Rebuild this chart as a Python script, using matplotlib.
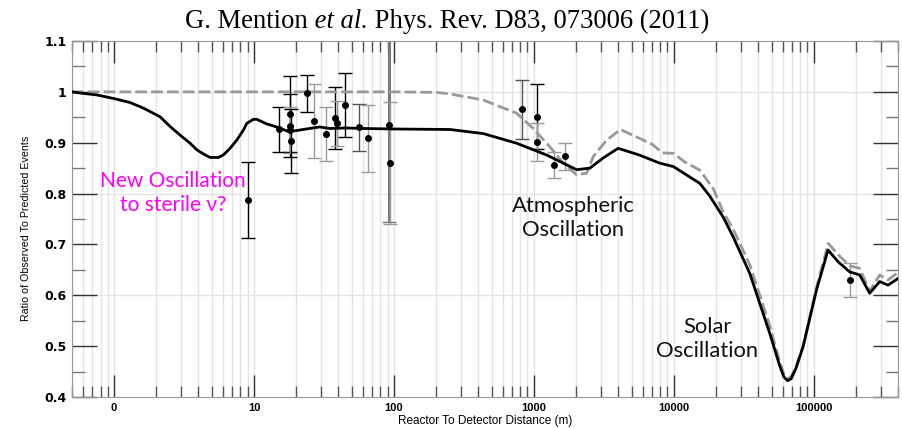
import matplotlib
matplotlib.use("Agg")
import matplotlib.pyplot as plt
from matplotlib.ticker import FixedLocator, NullFormatter

# solid black curve (with sterile neutrino), distance in m
black_x = [0.5, 0.6, 0.75, 0.99, 1.3, 1.62, 2.13, 2.51, 2.96, 3.49, 3.9, 4.34, 4.85, 5.56, 6.04,
           6.74, 7.52, 8.4, 8.87, 9.9, 10.45, 12.3,
           14.5, 17.6, 20.2, 25, 29.5, 34.8, 45, 60, 100, 251, 434, 752, 1230,
           2018, 2512, 3126, 4000, 5640, 7900, 9940, 15350, 18080, 22500, 26550,
           34900, 48500, 57000, 61000, 65000, 69000, 75000, 83900, 104500, 126500, 149200,
           180700, 213000, 251000, 296000, 339500, 400000]
black_y = [1.0, 0.997, 0.994, 0.987, 0.979, 0.968, 0.951, 0.932, 0.915, 0.899, 0.886, 0.878, 0.871, 0.871, 0.876,
           0.889, 0.905, 0.925, 0.938, 0.946, 0.946, 0.937,
           0.931, 0.922, 0.924, 0.928, 0.931, 0.928, 0.929, 0.928, 0.927, 0.926, 0.918, 0.899, 0.876,
           0.847, 0.850, 0.870, 0.889, 0.876, 0.860, 0.853, 0.820, 0.795, 0.754, 0.715,
           0.643, 0.525, 0.462, 0.440, 0.432, 0.436, 0.458, 0.499, 0.610, 0.689, 0.666,
           0.646, 0.640, 0.604, 0.627, 0.620, 0.633]

# dashed grey curve (standard three-flavour)
grey_x = [0.5, 1, 10, 100, 200, 251, 434, 752, 989, 1300, 1620, 2018, 2379, 2660,
          3306, 4160, 5640, 7000, 8300, 9940, 12000, 15350, 19100, 22500, 26550,
          34900, 48500, 57000, 61000, 65000, 69000, 75000, 83900, 104500, 127000, 149200,
          180700, 213000, 251000, 296000, 339500, 400000]
grey_y = [1.0, 1.0, 1.0, 1.0, 0.999, 0.996, 0.984, 0.958, 0.928, 0.892, 0.860, 0.837, 0.840, 0.873,
          0.905, 0.926, 0.909, 0.897, 0.880, 0.879, 0.862, 0.846, 0.810, 0.764, 0.730,
          0.660, 0.540, 0.470, 0.446, 0.436, 0.440, 0.462, 0.500, 0.615, 0.702, 0.680,
          0.658, 0.653, 0.608, 0.640, 0.630, 0.645]

# measured reactor points
pt_x = [9.0, 15.0, 18.0, 18.1, 18.2, 18.3, 24.0, 27.0, 32.7, 37.9, 39.4, 44.9,
        56.5, 64.9, 91.6, 93.5, 820, 1057, 1057, 1389, 1675, 180700]
pt_y = [0.787, 0.926, 0.956, 0.933, 0.925, 0.903, 0.997, 0.943, 0.918, 0.948, 0.938, 0.975,
        0.930, 0.909, 0.935, 0.861, 0.966, 0.951, 0.901, 0.856, 0.873, 0.630]
pt_err_lo = [0.075, 0.044, 0.075, 0.062, 0.045, 0.063, 0.037, 0.073, 0.053, 0.061, 0.045, 0.063,
             0.046, 0.066, 0.19, 0.12, 0.058, 0.064, 0.037, 0.025, 0.027, 0.033]
pt_err_hi = [0.075, 0.044, 0.075, 0.062, 0.045, 0.063, 0.037, 0.073, 0.053, 0.061, 0.045, 0.063,
             0.046, 0.066, 0.25, 0.12, 0.058, 0.064, 0.037, 0.025, 0.027, 0.033]
pt_col = ["k", "k", "k", "k", "g", "k", "k", "g", "g", "k", "g", "k",
          "d", "g", "t", "g", "d", "k", "g", "g", "g", "g"]

x_major = [1, 10, 100, 1000, 10000, 100000]
x_labels = ["0", "10", "100", "1000", "10000", "100000"]
y_major = [0.4, 0.5, 0.6, 0.7, 0.8, 0.9, 1.0, 1.1]
y_labels = ["0.4", "0.5", "0.6", "0.7", "0.8", "0.9", "1", "1.1"]

W, H = 903, 428
fig = plt.figure(figsize=(W / 100, H / 100), dpi=100)
ax = fig.add_axes([72 / W, 31 / H, 826 / W, 356 / H])
ax.set_xscale("log")
ax.set_xlim(0.5, 400000)
ax.set_ylim(0.4, 1.1)

# grid
x_minor = []
for d in [0.1, 1, 10, 100, 1000, 10000, 100000]:
    for s in range(2, 10):
        v = d * s
        if 0.5 <= v <= 400000:
            x_minor.append(v)
for v in x_major + x_minor:
    ax.axvline(v, color="#e4e4e4", lw=1, zorder=0)
for v in [0.6, 0.8, 1.0]:
    ax.axhline(v, color="#e4e4e4", lw=1, zorder=0)

# error bars
cols = {"k": ("black", 1.0), "g": ("#9a9a9a", 1.0), "d": ("#555555", 1.0), "t": ("#7a7a7a", 2.2)}
for x, y, lo, hi, c in zip(pt_x, pt_y, pt_err_lo, pt_err_hi, pt_col):
    col, lw = cols[c]
    ax.errorbar([x], [y], yerr=[[lo], [hi]], fmt="none", ecolor=col, elinewidth=lw,
                capsize=5, capthick=1, zorder=2)

ax.plot(grey_x, grey_y, color="#999999", lw=2, ls=(0, (4.2, 1.5)), zorder=3)
ax.plot(black_x, black_y, color="black", lw=2, zorder=4)
ax.plot(pt_x, pt_y, "o", color="black", ms=4, zorder=5)

# ticks
ax.xaxis.set_major_locator(FixedLocator(x_major))
ax.set_xticklabels(x_labels)
ax.xaxis.set_minor_locator(FixedLocator(x_minor))
ax.xaxis.set_minor_formatter(NullFormatter())
ax.set_yticks(y_major, y_labels)
ax.set_yticks([0.45, 0.55, 0.65, 0.75, 0.85, 0.95, 1.05], minor=True)
ax.tick_params(axis="x", which="major", direction="in", length=16, width=1, color="#333333",
               top=True, labelsize=8, pad=4)
ax.tick_params(axis="x", which="minor", direction="in", length=8, width=1, color="#555555", top=True)
ax.tick_params(axis="y", which="major", direction="in", length=18, width=1, color="#333333",
               right=True, labelsize=9, pad=4)
ax.tick_params(axis="y", which="minor", direction="in", length=9, width=1, color="#777777", right=True)
for lab in ax.get_xticklabels():
    lab.set_fontweight("bold")
    lab.set_family("Liberation Sans")
for lab in ax.get_yticklabels():
    lab.set_fontweight("bold")
    lab.set_family("DejaVu Sans")
for sp in ax.spines.values():
    sp.set_color("#999999")

ax.set_xlabel("Reactor To Detector Distance (m)", fontsize=8.5, family="Liberation Sans", labelpad=2)
fig.text(26 / W, 1 - 228 / H, "Ratio of Observed To Predicted Events", rotation=90,
         fontsize=7.7, family="Liberation Sans", ha="center", va="center")

# annotations
fig.text(173 / W, 1 - 193 / H, "New Oscillation\nto sterile \u03bd?",
         color="#ff00ff", fontsize=15, family="Lato", ha="center", va="center", linespacing=1.3)
fig.text(573 / W, 1 - 218 / H, "Atmospheric\nOscillation", color="#111111", fontsize=15.8,
         family="Lato", ha="center", va="center", linespacing=1.2)
fig.text(707 / W, 1 - 339 / H, "Solar\nOscillation", color="#111111", fontsize=15.8,
         family="Lato", ha="center", va="center", linespacing=1.2)

# title with italic part
ty = 1 - 28 / H
fs = 19.2
t1 = fig.text(0.2, ty, "G. Mention", fontsize=fs, family="Liberation Serif", va="baseline")
t2 = fig.text(0, 0, " et al.", fontsize=fs, family="Liberation Serif", style="italic", va="baseline")
t3 = fig.text(0, 0, " Phys. Rev. D83, 073006 (2011)", fontsize=fs, family="Liberation Serif", va="baseline")
r = fig.canvas.get_renderer()
w1 = t1.get_window_extent(r).width
w2 = t2.get_window_extent(r).width
w3 = t3.get_window_extent(r).width
x0 = 447 - (w1 + w2 + w3) / 2
t1.set_x(x0 / W)
t2.set_position(((x0 + w1) / W, ty))
t3.set_position(((x0 + w1 + w2) / W, ty))

fig.savefig("out.png", dpi=100)
